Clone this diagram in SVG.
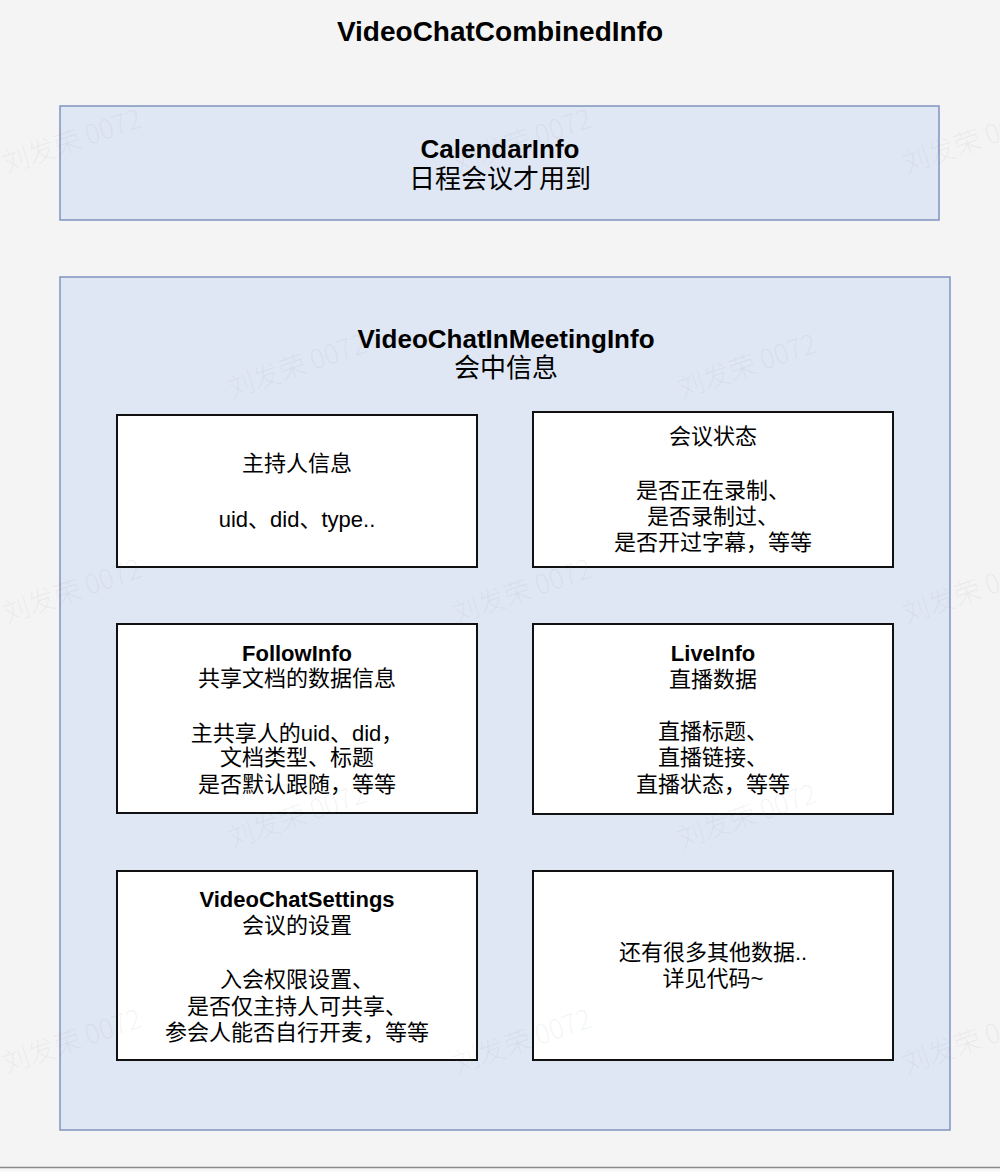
<svg xmlns="http://www.w3.org/2000/svg" width="1000" height="1172" viewBox="0 0 1000 1172">
<style>
text{font-family:"Liberation Sans","Noto Sans CJK SC",sans-serif;fill:#000;text-anchor:middle}
.t{font-size:22px}
.b{font-weight:bold}
.big{font-size:26px}
.wm{font-family:"Noto Sans CJK SC","Liberation Sans",sans-serif;font-size:27px;font-weight:300;fill:#7a7f8a;fill-opacity:0.09;text-anchor:middle}
.cont{fill:#e0e7f4;stroke:#8093bf;stroke-width:1.5}
.box{fill:#fff;stroke:#111;stroke-width:2}
</style>
<rect x="0" y="0" width="1000" height="1172" fill="#f4f4f4"/>
<g id="title"><text class="b" x="500" y="41" style="font-size:28px">VideoChatCombinedInfo</text></g>
<g id="calendar-info">
<rect class="cont" x="60" y="106" width="879" height="114"/>
<text class="b big" x="500" y="158">CalendarInfo</text>
<text class="big" x="500" y="188">日程会议才用到</text>
</g>
<g id="in-meeting-info">
<rect class="cont" x="60" y="277" width="890" height="853"/>
<text class="b big" x="506" y="348">VideoChatInMeetingInfo</text>
<text class="big" x="506" y="377">会中信息</text>
</g>
<g id="host-info">
<rect class="box" x="117" y="415" width="360" height="152"/>
<text class="t" x="297" y="471">主持人信息</text>
<text class="t" x="297" y="527">uid、did、type..</text>
</g>
<g id="meeting-status">
<rect class="box" x="533" y="412" width="360" height="155"/>
<text class="t" x="713" y="444">会议状态</text>
<text class="t" x="713" y="498">是否正在录制、</text>
<text class="t" x="713" y="524">是否录制过、</text>
<text class="t" x="713" y="550">是否开过字幕，等等</text>
</g>
<g id="follow-info">
<rect class="box" x="117" y="624" width="360" height="189"/>
<text class="t b" x="297" y="661">FollowInfo</text>
<text class="t" x="297" y="686">共享文档的数据信息</text>
<text class="t" x="297" y="741">主共享人的uid、did，</text>
<text class="t" x="297" y="765">文档类型、标题</text>
<text class="t" x="297" y="792">是否默认跟随，等等</text>
</g>
<g id="live-info">
<rect class="box" x="533" y="624" width="360" height="190"/>
<text class="t b" x="713" y="661">LiveInfo</text>
<text class="t" x="713" y="687">直播数据</text>
<text class="t" x="713" y="739">直播标题、</text>
<text class="t" x="713" y="765">直播链接、</text>
<text class="t" x="713" y="792">直播状态，等等</text>
</g>
<g id="video-chat-settings">
<rect class="box" x="117" y="871" width="360" height="189"/>
<text class="t b" x="297" y="907">VideoChatSettings</text>
<text class="t" x="297" y="933">会议的设置</text>
<text class="t" x="297" y="987">入会权限设置、</text>
<text class="t" x="297" y="1014">是否仅主持人可共享、</text>
<text class="t" x="297" y="1040">参会人能否自行开麦，等等</text>
</g>
<g id="more-data">
<rect class="box" x="533" y="871" width="360" height="189"/>
<text class="t" x="713" y="960">还有很多其他数据..</text>
<text class="t" x="713" y="986">详见代码~</text>
</g>
<g id="connectors"></g>
<g id="watermarks">
<text class="wm" transform="translate(75,150) rotate(-19)">刘发荣 0072</text>
<text class="wm" transform="translate(525,150) rotate(-19)">刘发荣 0072</text>
<text class="wm" transform="translate(975,150) rotate(-19)">刘发荣 0072</text>
<text class="wm" transform="translate(300,375) rotate(-19)">刘发荣 0072</text>
<text class="wm" transform="translate(750,375) rotate(-19)">刘发荣 0072</text>
<text class="wm" transform="translate(75,600) rotate(-19)">刘发荣 0072</text>
<text class="wm" transform="translate(525,600) rotate(-19)">刘发荣 0072</text>
<text class="wm" transform="translate(975,600) rotate(-19)">刘发荣 0072</text>
<text class="wm" transform="translate(300,825) rotate(-19)">刘发荣 0072</text>
<text class="wm" transform="translate(750,825) rotate(-19)">刘发荣 0072</text>
<text class="wm" transform="translate(75,1050) rotate(-19)">刘发荣 0072</text>
<text class="wm" transform="translate(525,1050) rotate(-19)">刘发荣 0072</text>
<text class="wm" transform="translate(975,1050) rotate(-19)">刘发荣 0072</text>
</g>
<g id="ruler">
<rect x="0" y="1168" width="1000" height="4" fill="#f8f8f8"/>
<line x1="0" y1="1167.5" x2="1000" y2="1167.5" stroke="#8a8a8a" stroke-width="1.5"/>
</g>
</svg>
